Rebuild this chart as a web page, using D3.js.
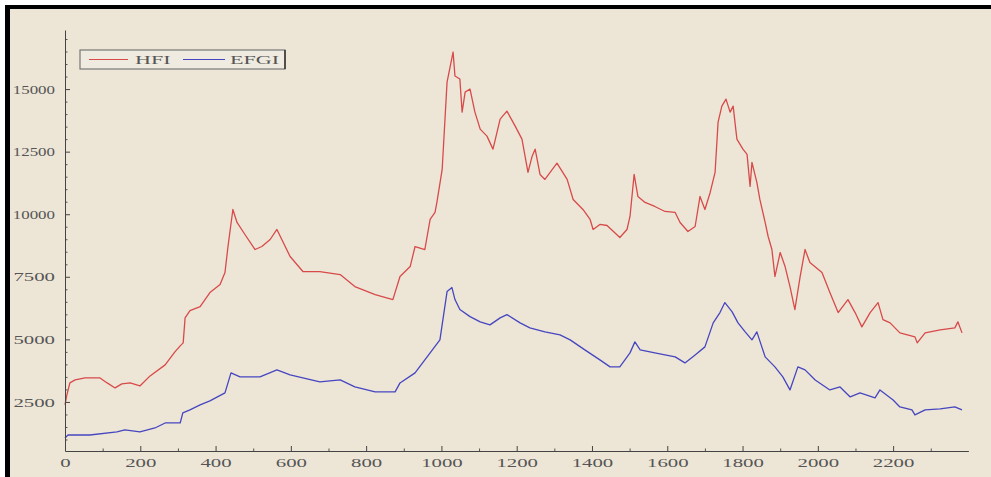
<!DOCTYPE html>
<html lang="en">
<head>
    <meta charset="UTF-8">
    <script src="https://d3js.org/d3.v7.min.js"></script>
    <title>HFI vs EFGI</title>
    <style>
        body { margin: 0; background: #ffffff; }
        .tick text, .lbl { font-family: "Liberation Serif", "DejaVu Serif", serif; font-size: 13px; fill: #555; }
    </style>
</head>
<body>
    <div class="chart"></div>
    <script>
        // values: [day index, index level]
        const hfiDays = [0, 5, 13, 27, 53, 93, 112, 133, 151, 173, 199, 226, 266, 292, 306, 314, 319, 332, 359, 372, 385, 412, 425, 433, 446, 457, 478, 505, 523, 545, 563, 598, 632, 677, 731, 770, 824, 871, 890, 917, 930, 956, 970, 983, 988, 1002, 1015, 1031, 1036, 1049, 1055, 1063, 1076, 1089, 1103, 1121, 1137, 1156, 1174, 1196, 1214, 1230, 1241, 1249, 1262, 1275, 1307, 1334, 1350, 1376, 1395, 1403, 1421, 1440, 1474, 1493, 1501, 1512, 1522, 1541, 1567, 1594, 1621, 1634, 1655, 1674, 1687, 1700, 1714, 1727, 1735, 1745, 1756, 1767, 1775, 1785, 1801, 1812, 1820, 1825, 1838, 1846, 1860, 1868, 1878, 1886, 1900, 1913, 1926, 1939, 1953, 1966, 1979, 2011, 2032, 2054, 2080, 2099, 2117, 2139, 2160, 2173, 2192, 2218, 2258, 2264, 2285, 2325, 2364, 2372, 2383];
        const hfiValues = [2380, 2780, 3260, 3380, 3460, 3460, 3260, 3060, 3220, 3260, 3140, 3540, 3980, 4500, 4740, 4860, 5860, 6150, 6310, 6590, 6870, 7190, 7670, 8710, 10190, 9670, 9190, 8590, 8710, 8990, 9390, 8310, 7710, 7710, 7590, 7110, 6790, 6590, 7510, 7910, 8710, 8590, 9790, 10070, 10470, 11790, 15280, 16480, 15520, 15400, 14080, 14880, 15000, 14080, 13400, 13120, 12600, 13800, 14120, 13520, 13000, 11670, 12320, 12600, 11590, 11390, 12040, 11390, 10590, 10190, 9790, 9390, 9590, 9550, 9070, 9390, 9910, 11590, 10710, 10470, 10310, 10110, 10070, 9670, 9310, 9510, 10710, 10190, 10870, 11670, 13680, 14320, 14600, 14080, 14320, 13000, 12600, 12390, 11110, 12070, 11270, 10590, 9670, 9110, 8590, 7510, 8470, 7910, 7110, 6190, 7510, 8590, 8070, 7670, 6870, 6070, 6590, 6070, 5500, 6070, 6470, 5790, 5660, 5260, 5100, 4860, 5260, 5380, 5460, 5700, 5260];

        const efgiDays = [0, 8, 66, 138, 159, 199, 239, 266, 306, 313, 332, 359, 385, 425, 441, 465, 518, 563, 598, 677, 731, 770, 824, 877, 890, 930, 970, 996, 1015, 1028, 1036, 1049, 1076, 1103, 1129, 1156, 1174, 1209, 1235, 1275, 1315, 1342, 1381, 1421, 1448, 1474, 1501, 1514, 1528, 1567, 1594, 1621, 1647, 1674, 1700, 1722, 1740, 1753, 1772, 1788, 1807, 1825, 1838, 1860, 1886, 1907, 1926, 1947, 1966, 1993, 2032, 2059, 2086, 2112, 2152, 2165, 2200, 2218, 2250, 2258, 2285, 2325, 2364, 2383];
        const efgiValues = [1060, 1180, 1180, 1300, 1380, 1300, 1460, 1660, 1660, 2060, 2180, 2380, 2540, 2860, 3660, 3500, 3500, 3780, 3580, 3300, 3380, 3100, 2900, 2900, 3260, 3660, 4460, 4980, 6910, 7070, 6590, 6190, 5910, 5700, 5580, 5860, 5990, 5660, 5460, 5300, 5180, 4980, 4580, 4180, 3900, 3900, 4460, 4900, 4580, 4460, 4380, 4300, 4060, 4380, 4700, 5660, 6070, 6470, 6110, 5660, 5300, 4980, 5300, 4300, 3900, 3500, 2980, 3900, 3780, 3380, 2980, 3100, 2700, 2860, 2660, 2980, 2580, 2300, 2180, 1980, 2180, 2220, 2300, 2180];

        const xTicks = [0, 200, 400, 600, 800, 1000, 1200, 1400, 1600, 1800, 2000, 2200];
        const yTicks = [2500, 5000, 7500, 10000, 12500, 15000];
        const seriesNames = ["HFI", "EFGI"];
        const seriesColors = ["#d84a4a", "#4646c0"];

        const width = 991, height = 477;
        const svg = d3.select(".chart").append("svg")
            .attr("width", width)
            .attr("height", height);

        // beige plot paper
        svg.append("rect").attr("x", 0).attr("y", 0).attr("width", width).attr("height", height).attr("fill", "#ede6d7");

        const x = d3.scaleLinear().domain([0, 2400]).range([65, 968.4]);
        const y = d3.scaleLinear().domain([540, 17360]).range([451, 30]);

        const line = d3.line()
            .x(d => x(d[0]))
            .y(d => y(d[1]));

        const hfi = hfiDays.map((d, i) => [d, hfiValues[i]]);
        const efgi = efgiDays.map((d, i) => [d, efgiValues[i]]);

        [hfi, efgi].forEach((s, i) => {
            svg.append("path")
                .datum(s)
                .attr("fill", "none")
                .attr("stroke", seriesColors[i])
                .attr("stroke-width", 1.3)
                .attr("stroke-linejoin", "round")
                .attr("d", line);
        });

        // minor ticks
        svg.append("g")
            .attr("transform", "translate(0,451)")
            .call(d3.axisBottom(x).tickValues(d3.range(100, 2400, 200)).tickSizeInner(-2.5).tickSizeOuter(0).tickFormat(""))
            .call(g => g.select(".domain").remove())
            .call(g => g.selectAll("line").attr("stroke", "#555"));
        svg.append("g")
            .attr("transform", "translate(65,0)")
            .call(d3.axisLeft(y).tickValues(d3.range(1000, 17001, 500).filter(v => v % 2500 !== 0)).tickSizeInner(-2.5).tickSizeOuter(0).tickFormat(""))
            .call(g => g.select(".domain").remove())
            .call(g => g.selectAll("line").attr("stroke", "#555"));

        // major axes
        const xAxis = svg.append("g")
            .attr("transform", "translate(0,451)")
            .call(d3.axisBottom(x).tickValues(xTicks).tickFormat(d3.format("d")).tickSizeInner(-5).tickSizeOuter(0).tickPadding(0));
        xAxis.select(".domain").attr("stroke", "#444");
        xAxis.selectAll("line").attr("stroke", "#444");
        xAxis.selectAll("text")
            .attr("y", 0)
            .attr("dy", 0)
            .attr("transform", "translate(0,16) scale(1.6,1)");

        const yAxis = svg.append("g")
            .attr("transform", "translate(65,0)")
            .call(d3.axisLeft(y).tickValues(yTicks).tickFormat(d3.format("d")).tickSizeInner(-5).tickSizeOuter(0).tickPadding(0));
        yAxis.select(".domain").attr("stroke", "#444");
        yAxis.selectAll("line").attr("stroke", "#444");
        // five-digit labels are squeezed so they stay clear of the frame
        yAxis.selectAll("text")
            .attr("x", 0)
            .attr("dy", "0.32em")
            .attr("transform", d => `translate(-10,0) scale(${d >= 10000 ? 1.3 : 1.6},1)`);

        // legend
        const legend = svg.append("g").attr("transform", "translate(80,50)");
        legend.append("rect")
            .attr("width", 205).attr("height", 19)
            .attr("fill", "#f0ebe0").attr("stroke", "#777").attr("stroke-width", 1.2);
        legend.append("line").attr("x1", 205).attr("x2", 205).attr("y1", 0).attr("y2", 19).attr("stroke", "#333").attr("stroke-width", 1.5);
        const legendX = [[9, 48, 55], [103, 145, 150]];
        seriesNames.forEach((name, i) => {
            legend.append("line")
                .attr("x1", legendX[i][0]).attr("x2", legendX[i][1])
                .attr("y1", 9.5).attr("y2", 9.5)
                .attr("stroke", seriesColors[i]).attr("stroke-width", 1);
            legend.append("text")
                .attr("class", "lbl")
                .attr("transform", `translate(${legendX[i][2]},14) scale(1.7,1)`)
                .text(name);
        });

        // the cropped frame of the original image
        svg.append("rect").attr("x", 0).attr("y", 0).attr("width", width).attr("height", 5).attr("fill", "#fff");
        svg.append("rect").attr("x", 0).attr("y", 0).attr("width", 5).attr("height", height).attr("fill", "#fff");
        svg.append("rect").attr("x", 5).attr("y", 5).attr("width", width - 5).attr("height", 4).attr("fill", "#000");
        svg.append("rect").attr("x", 5).attr("y", 5).attr("width", 5).attr("height", height - 5).attr("fill", "#000");
    </script>
</body>
</html>
